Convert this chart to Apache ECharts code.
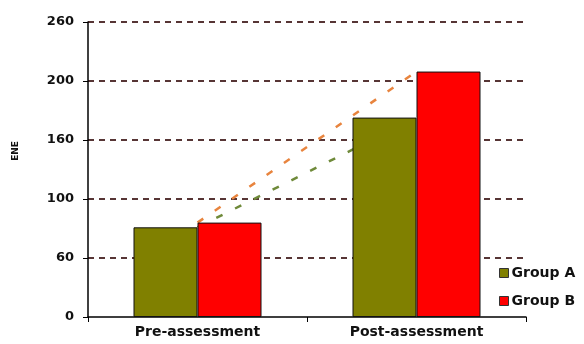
<!DOCTYPE html>
<html>
<head>
<meta charset="utf-8">
<script src="https://cdn.jsdelivr.net/npm/echarts@6/dist/echarts.min.js"></script>
<style>
  html, body { margin: 0; padding: 0; background: #fff; }
  #chart { width: 584px; height: 344px; }
</style>
</head>
<body>
<div id="chart"></div>
<script>
// Assessment scores per group
const categories = ['Pre-assessment', 'Post-assessment'];
const groupA = [76, 169];
const groupB = [80, 208];
// Labels printed beside the ticks at 0, 50, 100, 150, 200, 250
const tickLabels = ['0', '60', '100', '160', '200', '260'];
const yMin = 0, yMax = 250, yStep = 50;
const yTitle = 'ENE';

const FONT = '"DejaVu Sans", Verdana, sans-serif';
const chart = echarts.init(document.getElementById('chart'), null, { renderer: 'canvas' });

chart.setOption({
  animation: false,
  backgroundColor: '#ffffff',
  grid: { left: 88, right: 58, top: 22, bottom: 27, containLabel: false },
  graphic: [{
    type: 'text',
    left: 11, top: 141,
    rotation: Math.PI / 2,
    style: { text: yTitle, fontFamily: FONT, fontWeight: 'bold', fontSize: 9, fill: '#111' }
  }],
  legend: {
    orient: 'vertical',
    left: 494, top: 261,
    itemWidth: 9, itemHeight: 9, itemGap: 14,
    icon: 'rect',
    data: ['Group A', 'Group B'],
    itemStyle: { borderColor: '#333', borderWidth: 1 },
    textStyle: { fontFamily: FONT, fontWeight: 'bold', fontSize: 14, color: '#111', padding: [0, 0, 0, -2] }
  },
  xAxis: {
    type: 'category',
    data: categories,
    axisLine: { show: true, lineStyle: { color: '#000', width: 1.5 } },
    axisTick: { show: true, inside: false, length: 5, lineStyle: { color: '#000' } },
    axisLabel: { fontFamily: FONT, fontWeight: 'bold', fontSize: 14, color: '#111', margin: 8 }
  },
  yAxis: {
    type: 'value',
    min: yMin, max: yMax, interval: yStep,
    axisLine: { show: true, lineStyle: { color: '#000', width: 1.5 } },
    axisTick: { show: true, inside: false, length: 5, lineStyle: { color: '#000' } },
    axisLabel: {
      fontFamily: FONT, fontWeight: 'bold', fontSize: 13, color: '#111', margin: 14,
      formatter: function (v) { return tickLabels[Math.round((v - yMin) / yStep)]; }
    },
    splitLine: {
      show: true,
      showMinLine: false,
      lineStyle: { color: '#573535', width: 2, type: [6, 5] }
    }
  },
  series: [
    {
      name: 'Group A', type: 'bar', data: groupA,
      barWidth: 64, barGap: '0%', z: 3,
      itemStyle: { color: '#808000', borderColor: '#111', borderWidth: 1 }
    },
    {
      name: 'Group B', type: 'bar', data: groupB,
      barWidth: 64, z: 3,
      itemStyle: { color: '#ff0000', borderColor: '#111', borderWidth: 1 }
    },
    {
      // change between the two assessments, Group A
      name: 'A trend', type: 'line', data: groupA, z: 1,
      symbol: 'none', silent: true,
      lineStyle: { color: '#6f8a3a', width: 2.5, type: [7, 14] }
    },
    {
      // change between the two assessments, Group B
      name: 'B trend', type: 'line', data: groupB, z: 1,
      symbol: 'none', silent: true,
      lineStyle: { color: '#e8843e', width: 2.5, type: [7, 14] }
    }
  ]
});
</script>
</body>
</html>
